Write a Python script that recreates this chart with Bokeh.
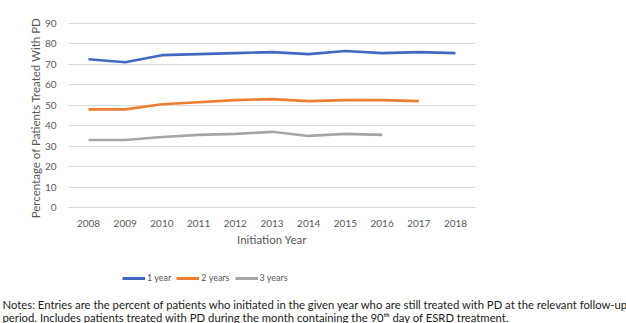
from bokeh.plotting import figure
from bokeh.models import Legend, LegendItem, Label, Range1d
from bokeh.embed import file_html
from bokeh.resources import INLINE

years = [2008, 2009, 2010, 2011, 2012, 2013, 2014, 2015, 2016, 2017, 2018]
one_year = [72.5, 71.0, 74.5, 75.0, 75.5, 76.0, 75.0, 76.5, 75.5, 76.0, 75.5]
two_years = [48.0, 48.0, 50.5, 51.5, 52.5, 53.0, 52.0, 52.5, 52.5, 52.0]
three_years = [33.0, 33.0, 34.5, 35.5, 36.0, 37.0, 35.0, 36.0, 35.5]
y_ticks = [0, 10, 20, 30, 40, 50, 60, 70, 80, 90]
series_names = ["1 year", "2 years", "3 years"]
series_colors = ["#4169c1", "#ed7d31", "#a5a5a5"]
series_values = [one_year, two_years, three_years]
notes = [
    "Notes: Entries are the percent of patients who initiated in the given year who are still treated with PD at the relevant follow-up",
    "period. Includes patients treated with PD during the month containing the 90\u1d57\u02b0 day of ESRD treatment.",
]

FONT = "Lato"
TICK = "#595959"

# ---------- main chart ----------
p = figure(width=626, height=252, output_backend="svg", toolbar_location=None,
           x_range=Range1d(2007.455, 2018.545), y_range=Range1d(-0.5, 93.9),
           min_border_left=68, min_border_right=151, min_border_top=15, min_border_bottom=44)
p.outline_line_color = None
p.background_fill_color = "white"
p.border_fill_color = "white"

p.xgrid.grid_line_color = None
p.ygrid.grid_line_color = "#d9d9d9"
p.ygrid.grid_line_width = 1
p.yaxis.ticker = y_ticks
p.xaxis.ticker = years

for ax in (p.xaxis[0], p.yaxis[0]):
    ax.axis_line_color = None
    ax.major_tick_line_color = None
    ax.minor_tick_line_color = None
    ax.major_label_text_color = TICK
    ax.major_label_text_font = FONT
    ax.major_label_text_font_size = "10px"
    ax.axis_label_text_color = TICK
    ax.axis_label_text_font = FONT
    ax.axis_label_text_font_size = "11.5px"
    ax.axis_label_text_font_style = "normal"

p.xaxis.axis_label = "Initiation Year"
p.yaxis.axis_label = "Percentage of Patients Treated With PD" + "\u00a0" * 4
p.xaxis.major_label_standoff = 5
p.yaxis.major_label_standoff = 6
p.xaxis.axis_label_standoff = 3
p.yaxis.axis_label_standoff = 0

for vals, col in zip(series_values, series_colors):
    p.line(years[:len(vals)], vals, line_color=col, line_width=2.6)

# ---------- legend + notes strip ----------
q = figure(width=626, height=71, output_backend="svg", toolbar_location=None,
           x_range=Range1d(0, 626), y_range=Range1d(71, 0),
           x_axis_type=None, y_axis_type=None, min_border=0)
q.outline_line_color = None
q.xgrid.grid_line_color = None
q.ygrid.grid_line_color = None
q.background_fill_color = "white"
q.border_fill_color = "white"

leg_items = []
for name, col, vals in zip(series_names, series_colors, series_values):
    # same series, off-view in this strip; only used for the legend swatch
    r = q.line(years[:len(vals)], vals, line_color=col, line_width=3)
    leg_items.append(LegendItem(label=name, renderers=[r]))

legend = Legend(items=leg_items, orientation="horizontal", location=(122, 40),
                background_fill_alpha=0, border_line_alpha=0,
                label_text_font=FONT, label_text_font_size="9px", label_text_color=TICK,
                glyph_width=23, glyph_height=10, label_standoff=2, spacing=5,
                padding=0, margin=0, label_height=10)
q.add_layout(legend, "center")

for i, t in enumerate(notes):
    q.add_layout(Label(x=2, y=52 + 13 * i, text=t, text_font=FONT,
                       text_font_size="11.3px", text_color="#1a1a1a",
                       text_baseline="middle"))

open("out.html", "w").write(file_html([p, q], INLINE))
